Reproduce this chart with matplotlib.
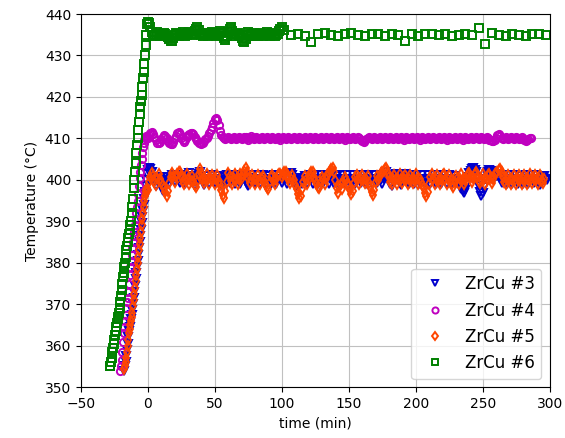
import numpy as np
import matplotlib
matplotlib.use('Agg')
import matplotlib.pyplot as plt

# ramp-up readings are 0.5 min apart, plateau readings 1 min apart from t = 0

# ZrCu #3
ramp3_start = -17.5
ramp3 = [354, 355, 356, 357.5, 359, 360.5, 362, 363.5, 364.5, 365.5,
         366.5, 367.5, 368.5, 370, 371.5, 373, 374.5, 376, 377.5, 379,
         380.5, 382, 383.5, 385, 386.5, 388, 389.5, 391, 392.5, 394,
         395.5, 397, 398.5, 400, 401.5]
flat3 = [402.4, 402.8, 402.6, 401.8, 400.6, 399.4, 398.6, 399.8, 400.8, 400.2,
         398.8, 397.4, 398.2, 399.6, 400.6, 400.0, 399.1, 400.2, 401.1, 400.3,
         399.4, 400.6, 401.2, 400.3, 399.2, 400.2, 401.1, 400.1, 399.1, 400.2,
         401.0, 401.6, 401.0, 400.2, 399.2, 398.6, 399.6, 400.5, 401.4, 401.8,
         400.8, 399.4, 398.8, 399.8, 400.9, 400.1, 399.1, 400.3, 401.2, 400.2,
         399.2, 400.3, 401.0, 400.0, 399.0, 398.8, 398.6, 399.6, 400.6, 401.2,
         400.2, 399.2, 400.3, 401.2, 400.1, 399.1, 400.2, 401.1, 400.0, 399.0,
         400.2, 401.2, 400.6, 399.6, 398.9, 398.5, 399.4, 400.5, 401.2, 400.2,
         399.2, 400.3, 401.1, 400.1, 399.1, 400.2, 401.2, 400.2, 399.1, 400.1,
         401.0, 400.0, 399.0, 400.2, 401.1, 400.1, 399.1, 400.3, 401.2, 400.2,
         399.2, 400.3, 401.2, 400.2, 399.1, 400.1, 401.1, 401.7, 401.2, 400.2,
         399.2, 398.6, 399.4, 400.5, 400.0, 399.0, 400.1, 401.0, 400.1, 399.1,
         400.2, 401.1, 400.1, 399.1, 400.2, 401.1, 400.0, 399.0, 400.2, 401.2,
         400.2, 399.2, 400.3, 401.2, 400.1, 399.1, 400.2, 401.1, 400.0, 399.0,
         400.1, 401.0, 400.0, 399.0, 400.2, 401.2, 400.2, 399.1, 400.1, 401.1,
         400.1, 399.1, 400.2, 401.1, 400.0, 399.0, 400.2, 401.2, 400.2, 399.2,
         400.3, 401.2, 400.1, 399.1, 400.2, 401.1, 400.1, 399.1, 400.2, 401.2,
         400.2, 399.2, 400.3, 401.1, 400.0, 399.0, 400.2, 401.2, 401.8, 401.2,
         400.4, 399.0, 398.6, 399.6, 400.8, 401.5, 401.0, 400.2, 399.2, 398.7,
         399.7, 400.8, 401.4, 400.6, 399.6, 399.0, 400.2, 401.1, 400.1, 399.1,
         400.2, 401.1, 400.1, 399.1, 400.2, 401.2, 400.2, 399.2, 400.3, 401.1,
         400.1, 399.1, 400.2, 401.2, 400.1, 399.1, 400.2, 401.1, 400.0, 399.0,
         400.2, 401.1, 400.1, 399.1, 400.2, 401.2, 400.2, 399.1, 400.1, 401.0,
         400.0, 399.2, 399.0, 398.6, 397.8, 397.2, 396.8, 397.6, 399.2, 400.6,
         401.6, 402.2, 402.6, 402.8, 402.5, 401.8, 400.6, 398.6, 397.0, 396.2,
         396.8, 398.4, 400.2, 401.4, 402.0, 402.4, 402.2, 401.6, 401.0, 400.6,
         401.0, 401.4, 400.8, 400.2, 399.2, 400.3, 401.2, 400.1, 399.1, 400.2,
         401.1, 400.1, 399.1, 400.2, 401.2, 400.2, 399.1, 400.1, 401.0, 400.0,
         399.0, 400.2, 401.1, 400.1, 399.1, 400.2, 401.2, 400.2, 399.2, 400.3,
         401.1, 400.1, 399.2, 398.8, 399.6, 400.4, 401.0, 400.3, 400.0]

# ZrCu #4
ramp4_start = -20.5
ramp4 = [354, 355, 356.5, 358.5, 361, 363, 364.5, 366, 367.5, 369,
         370.5, 371.5, 373, 375, 377, 379, 380.5, 382, 383.5, 385,
         386.5, 387.5, 389, 390.5, 392, 393.5, 395, 396.5, 398.5, 400.5,
         402, 403.5, 405, 406.5, 408, 409, 409.5, 410, 410, 410.5, 410]
flat4 = [410.2, 410.8, 411.3, 411.5, 411.0, 410.3, 409.6, 409.0, 408.8, 409.2,
         409.8, 410.4, 410.9, 410.6, 410.0, 409.4, 409.0, 408.7, 408.6, 409.2,
         410.0, 410.7, 411.2, 411.5, 411.0, 410.2, 409.5, 409.1, 409.6, 410.3,
         410.8, 411.1, 411.3, 411.4, 411.0, 410.4, 409.8, 409.3, 409.0, 408.8,
         408.7, 409.0, 409.4, 409.8, 410.0, 410.6, 411.4, 412.0, 412.8, 413.8,
         414.6, 415.0, 414.4, 413.2, 411.8, 410.8, 410.3, 410.0, 409.8, 410.1,
         410.4, 410.2, 409.9, 410.1, 410.4, 410.2, 409.8, 410.0, 410.3, 410.1,
         409.8, 410.0, 410.4, 410.3, 410.0, 409.7, 410.1, 410.5, 410.2, 409.9,
         410.1, 410.4, 410.2, 409.8, 410.0, 410.3, 410.1, 409.8, 410.1, 410.4,
         410.2, 409.9, 410.1, 410.4, 410.2, 409.8, 410.0, 410.3, 410.1, 409.7,
         410.0, 410.4, 410.2, 409.8, 410.1, 410.4, 410.1, 409.8, 410.0, 410.3,
         410.1, 409.8, 410.1, 410.4, 410.2, 409.9, 410.1, 410.4, 410.1, 409.8,
         410.0, 410.3, 410.1, 409.8, 410.1, 410.4, 410.2, 409.9, 410.1, 410.4,
         410.1, 409.8, 410.0, 410.3, 410.1, 409.8, 410.1, 410.4, 410.2, 409.8,
         410.0, 410.3, 410.1, 409.8, 410.1, 410.4, 410.1, 409.7, 410.0, 410.3,
         410.1, 409.8, 410.0, 410.4, 410.2, 409.9, 410.1, 410.3, 410.0, 409.6,
         409.4, 409.2, 409.5, 409.9, 410.2, 410.4, 410.1, 409.8, 410.0, 410.3,
         410.1, 409.8, 410.0, 410.4, 410.2, 409.9, 410.1, 410.4, 410.1, 409.8,
         410.0, 410.3, 410.1, 409.8, 410.1, 410.4, 410.2, 409.9, 410.1, 410.3,
         410.0, 409.7, 410.0, 410.3, 410.1, 409.8, 410.1, 410.4, 410.2, 409.9,
         410.1, 410.3, 410.0, 409.7, 410.0, 410.4, 410.2, 409.9, 410.1, 410.4,
         410.1, 409.8, 410.0, 410.3, 410.1, 409.8, 410.1, 410.4, 410.2, 409.9,
         410.1, 410.3, 410.0, 409.7, 410.0, 410.3, 410.1, 409.8, 410.1, 410.4,
         410.2, 409.9, 410.1, 410.3, 410.0, 409.7, 410.0, 410.4, 410.2, 409.9,
         410.1, 410.4, 410.1, 409.8, 410.0, 410.3, 410.1, 409.8, 410.1, 410.4,
         410.2, 409.9, 410.1, 410.3, 410.0, 409.7, 409.6, 409.4, 409.3, 409.5,
         410.2, 410.8, 411.0, 410.6, 410.1, 409.8, 410.0, 410.3, 410.1, 409.8,
         410.0, 410.3, 410.1, 409.8, 410.1, 410.4, 410.2, 409.9, 410.1, 410.3,
         409.9, 409.6, 409.4, 409.5, 409.8, 410.0, 410.1]

# ZrCu #5
ramp5_start = -17.5
ramp5 = [354.5, 355, 356, 357, 358.5, 360, 361.5, 363, 364, 365,
         366, 367, 368, 369.5, 371, 372.5, 374, 375.5, 377, 378.5,
         380, 381.5, 383, 384.5, 386, 387.5, 389, 390.5, 392, 393.5,
         395, 396, 397, 397.5, 398]
flat5 = [397.5, 399.5, 400.8, 401.6, 401.0, 399.6, 398.8, 400.4, 401.4, 400.3,
         399.3, 398.8, 398.0, 397.0, 396.2, 397.4, 399.2, 400.8, 401.6, 400.6,
         399.4, 400.6, 401.4, 401.8, 402.0, 401.0, 399.8, 399.0, 400.3, 401.3,
         400.2, 399.0, 399.8, 401.0, 399.8, 398.8, 398.2, 399.6, 401.4, 402.6,
         401.6, 400.3, 399.2, 400.3, 401.3, 400.1, 399.0, 400.2, 401.2, 400.0,
         398.9, 400.1, 401.1, 399.8, 398.8, 397.6, 396.3, 395.6, 397.2, 399.6,
         401.7, 401.0, 399.8, 399.0, 400.3, 401.3, 400.0, 398.9, 400.2, 401.4,
         400.4, 401.4, 402.2, 402.8, 401.8, 400.4, 399.2, 400.3, 401.2, 400.1,
         399.0, 400.2, 401.1, 399.9, 398.9, 400.1, 401.0, 399.8, 398.8, 398.2,
         397.8, 399.4, 400.6, 401.2, 400.0, 399.0, 400.2, 401.1, 401.3, 401.5,
         400.6, 401.3, 401.8, 402.0, 401.2, 400.2, 399.2, 400.3, 401.1, 399.9,
         398.8, 397.8, 396.6, 395.6, 396.2, 397.8, 399.6, 400.9, 400.0, 399.1,
         400.3, 401.3, 401.8, 401.9, 400.8, 399.8, 399.0, 398.4, 398.0, 399.5,
         400.8, 400.0, 399.1, 400.2, 401.2, 401.6, 402.1, 402.6, 402.8, 401.8,
         400.0, 398.0, 396.8, 398.2, 399.0, 397.8, 399.4, 400.8, 400.0, 399.1,
         398.8, 397.6, 396.6, 397.4, 399.2, 400.8, 401.2, 400.1, 399.1, 400.2,
         401.1, 400.2, 399.2, 400.3, 401.0, 399.3, 398.2, 397.0, 396.4, 397.6,
         399.6, 400.9, 400.0, 401.0, 401.6, 401.9, 402.2, 402.6, 402.8, 401.6,
         400.6, 399.6, 399.0, 400.2, 401.2, 400.1, 399.1, 400.3, 401.3, 400.2,
         399.2, 400.3, 401.1, 400.0, 398.9, 400.1, 401.1, 400.2, 399.2, 400.3,
         401.3, 400.1, 399.1, 400.2, 399.6, 398.8, 398.0, 396.8, 396.2, 397.0,
         399.0, 400.8, 401.3, 400.1, 399.1, 400.2, 401.2, 400.0, 399.0, 400.1,
         401.1, 401.4, 400.2, 399.1, 400.1, 401.1, 400.0, 398.9, 398.3, 399.6,
         400.9, 400.1, 399.1, 400.3, 401.3, 400.2, 399.0, 399.9, 400.9, 401.4,
         401.6, 400.6, 399.6, 400.4, 401.4, 401.8, 400.8, 399.8, 399.2, 400.3,
         401.3, 400.2, 399.1, 400.1, 401.2, 401.5, 400.5, 399.3, 400.3, 401.3,
         401.6, 402.0, 402.4, 402.7, 401.8, 400.6, 399.5, 399.0, 400.2, 401.2,
         400.1, 399.1, 400.2, 401.2, 400.0, 398.9, 400.1, 401.1, 400.0, 399.0,
         400.2, 401.2, 400.1, 399.1, 400.3, 401.3, 400.2, 399.2, 400.2, 401.1,
         400.0, 399.0, 400.2, 401.1, 400.0, 399.2, 400.2]

# ZrCu #6
ramp6_start = -28.5
ramp6 = [355, 355, 356, 357, 358.5, 359.5, 360.5, 361.5, 362.5, 363.5,
         364.5, 365.5, 366.5, 367, 368, 369, 370.5, 372, 373.5, 375,
         376.5, 377.5, 379, 380, 381.5, 383, 384, 385, 386, 387,
         388, 389, 390, 392, 393.5, 395.5, 398, 400, 402, 404,
         406.5, 408.5, 410, 412, 414, 416, 417.5, 419, 420.5, 422.5,
         424.5, 426, 428, 430, 432.5, 435, 437.5]
flat6 = [438.0, 437.8, 436.8, 435.6, 435.0, 434.8, 435.2, 435.6, 435.3, 434.8,
         434.6, 435.0, 435.4, 435.2, 434.7, 434.4, 434.0, 433.6, 433.4, 434.2,
         435.0, 435.4, 435.1, 434.7, 434.9, 435.3, 435.6, 435.2, 434.8, 435.0,
         435.4, 435.7, 435.3, 434.9, 435.2, 435.8, 436.4, 436.8, 436.2, 435.4,
         435.0, 434.7, 435.1, 435.5, 435.2, 434.8, 435.0, 435.4, 435.7, 435.3,
         434.9, 434.6, 435.0, 435.5, 435.8, 435.4, 434.8, 434.2, 433.8, 434.6,
         435.6, 436.4, 436.8, 436.0, 435.2, 434.8, 435.1, 435.5, 435.0, 434.6,
         434.2, 433.6, 433.2, 434.0, 435.0, 435.6, 435.2, 434.8, 435.1, 435.5,
         435.2, 434.8, 434.6, 435.0, 435.4, 435.2, 434.7, 434.9, 435.3, 435.6,
         435.2, 434.8, 435.0, 435.4, 435.1, 434.7, 434.9, 435.3, 435.8, 436.4,
         436.8]
# after 100 min the log was sparser: one reading every 5 min from t = 102
late6_start = 102
late6 = [436.2, 435.0, 435.3, 434.8, 433.2, 435.2, 435.5, 435.0, 434.7, 435.2,
         435.4, 435.0, 434.8, 435.3, 435.1, 434.8, 435.2, 435.0, 433.4, 435.3,
         434.8, 435.1, 435.3, 434.9, 435.2, 434.7, 435.0, 435.3, 435.0, 436.6,
         432.8, 435.4, 435.0, 434.8, 435.2, 435.0, 434.7, 435.1, 435.3, 435.0]


def series(start, ramp, flat):
    t_ramp = start + 0.5 * np.arange(len(ramp))
    t_flat = 1.0 * np.arange(len(flat))
    return np.concatenate([t_ramp, t_flat]), np.array(ramp + flat, dtype=float)


t3, T3 = series(ramp3_start, ramp3, flat3)
t4, T4 = series(ramp4_start, ramp4, flat4)
t5, T5 = series(ramp5_start, ramp5, flat5)
t6, T6 = series(ramp6_start, ramp6, flat6)
t6 = np.concatenate([t6, late6_start + 5.0 * np.arange(len(late6))])
T6 = np.concatenate([T6, late6])

fig, ax = plt.subplots(figsize=(5.65, 4.38), dpi=100)
fig.subplots_adjust(left=0.143, right=0.973, top=0.968, bottom=0.116)

ms = 5.2
mew = 1.4
ax.plot(t3, T3, 'v', color='mediumblue', mfc='none', ms=ms, mew=mew, label='ZrCu #3')
ax.plot(t4, T4, 'o', color='m', mfc='none', ms=ms, mew=mew, label='ZrCu #4')
ax.plot(t5, T5, 'd', color='orangered', mfc='none', ms=ms, mew=mew, label='ZrCu #5')
ax.plot(t6, T6, 's', color='green', mfc='none', ms=ms, mew=mew, label='ZrCu #6')

ax.set_xlim(-50, 300)
ax.set_ylim(350, 440)
ax.set_xlabel('time (min)')
ax.set_ylabel('Temperature (°C)')
ax.grid(True, color='#c0c0c0')
ax.set_axisbelow(True)
ax.legend(loc='lower right', fontsize=12, markerscale=0.85)

plt.savefig('out.png', dpi=100)
